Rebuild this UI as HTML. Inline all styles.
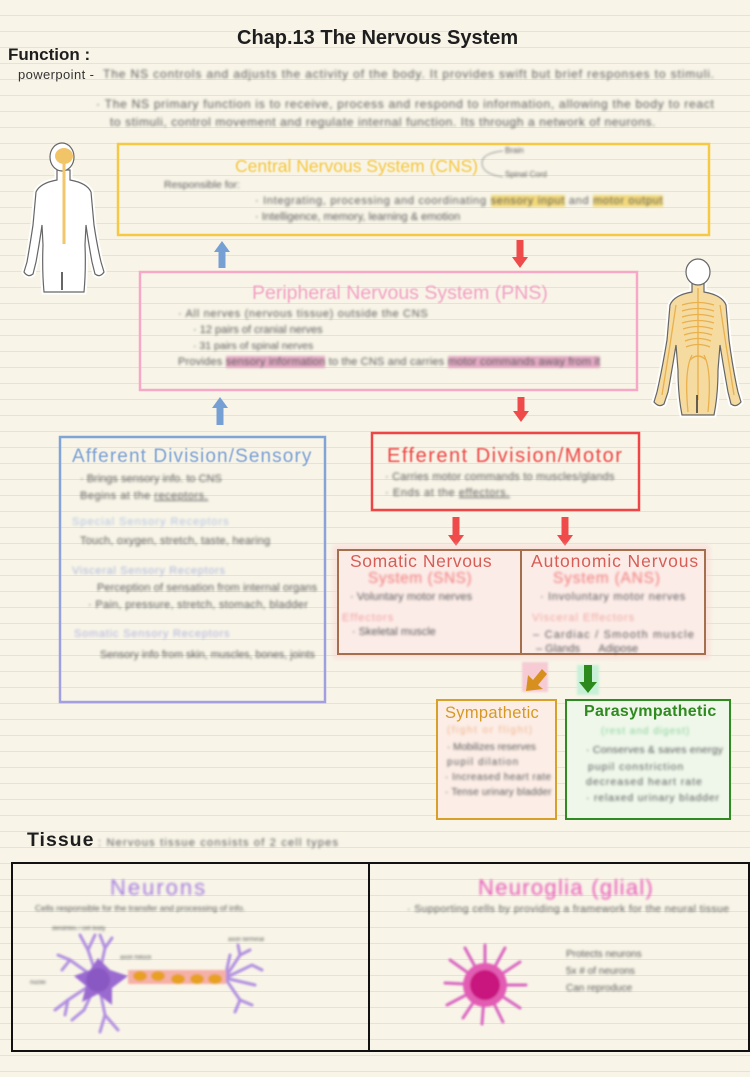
<!DOCTYPE html>
<html><head><meta charset="utf-8">
<style>
html,body{margin:0;padding:0;}
body{width:750px;height:1077px;overflow:hidden;background:#f8f5e8;position:relative;font-family:"Liberation Sans","DejaVu Sans",sans-serif;}
.bg{position:absolute;left:0;top:0;width:750px;height:1077px;background:repeating-linear-gradient(to bottom,transparent 0,transparent 15px,#e6e3d4 15px,#e6e3d4 16px);}
.a{position:absolute;white-space:nowrap;line-height:1;}
.bl{filter:blur(1.4px);color:#5c5c5c;font-size:11px;}
.hl{background:#f3d97a;}
.hp{background:#e4a9c4;}
svg{position:absolute;left:0;top:0;}
</style></head>
<body>
<div class="bg"></div>

<svg width="750" height="1077" viewBox="0 0 750 1077">
<defs>
<filter id="b1"><feGaussianBlur stdDeviation="1.1"/></filter>
<filter id="b2"><feGaussianBlur stdDeviation="2.5"/></filter>
<linearGradient id="afg" x1="0" y1="0" x2="0" y2="1">
<stop offset="0" stop-color="#7fa4d6"/><stop offset="1" stop-color="#a39fe0"/>
</linearGradient>
</defs>

<!-- left figure -->
<g>
<path d="M57,170 L57,180 Q40,183 36,192 L33,225 Q30,245 27,262 L24,272 Q28,278 33,274 L36,262 Q40,240 42,225 L43,245 Q42,270 44,292 L84,292 Q86,270 85,245 L86,225 Q88,240 92,262 L95,274 Q100,278 104,272 L101,262 Q97,245 94,225 L91,192 Q87,183 70,180 L70,170 Z" fill="#fff" stroke="#fff" stroke-width="5"/>
<path d="M57,170 L57,180 Q40,183 36,192 L33,225 Q30,245 27,262 L24,272 Q28,278 33,274 L36,262 Q40,240 42,225 L43,245 Q42,270 44,292 L84,292 Q86,270 85,245 L86,225 Q88,240 92,262 L95,274 Q100,278 104,272 L101,262 Q97,245 94,225 L91,192 Q87,183 70,180 L70,170 Z" fill="#fff" stroke="#666" stroke-width="1.2"/>
<ellipse cx="62" cy="157" rx="12" ry="14" fill="#fff" stroke="#666" stroke-width="1.2"/>
<ellipse cx="64" cy="156" rx="9" ry="8" fill="#f1c468"/>
<line x1="64" y1="162" x2="64" y2="244" stroke="#f2c66a" stroke-width="3"/>
<line x1="62" y1="272" x2="62" y2="290" stroke="#333" stroke-width="1.5"/>
</g>

<!-- right figure -->
<g>
<path d="M692,283 L692,292 Q674,295 670,305 L667,340 Q662,370 657,392 L654,402 Q659,408 664,404 L668,392 Q672,370 676,345 L678,370 Q678,395 682,415 L714,415 Q718,395 718,370 L720,345 Q724,370 728,392 L731,404 Q736,408 741,402 L738,392 Q733,370 729,340 L726,305 Q722,295 704,292 L704,283 Z" fill="#f6dba0" stroke="#fff" stroke-width="5"/>
<path d="M692,283 L692,292 Q674,295 670,305 L667,340 Q662,370 657,392 L654,402 Q659,408 664,404 L668,392 Q672,370 676,345 L678,370 Q678,395 682,415 L714,415 Q718,395 718,370 L720,345 Q724,370 728,392 L731,404 Q736,408 741,402 L738,392 Q733,370 729,340 L726,305 Q722,295 704,292 L704,283 Z" fill="#f6dba0" stroke="#666" stroke-width="1.2"/>
<ellipse cx="698" cy="272" rx="12" ry="13" fill="#fff" stroke="#666" stroke-width="1.2"/>
<g stroke="#e9b04c" stroke-width="1.3" fill="none">
<line x1="698" y1="288" x2="698" y2="400"/>
<path d="M682,305 Q698,300 714,305"/><path d="M682,311 Q698,306 714,311"/><path d="M682,317 Q698,312 714,317"/><path d="M682,323 Q698,318 714,323"/><path d="M683,329 Q698,324 713,329"/><path d="M684,335 Q698,330 712,335"/><path d="M685,341 Q698,336 711,341"/><path d="M686,347 Q698,342 710,347"/>
<path d="M676,305 L670,345 L662,395"/><path d="M720,305 L726,345 L734,395"/>
<path d="M692,355 Q684,370 688,412"/><path d="M704,355 Q712,370 708,412"/>
<path d="M690,360 Q698,352 706,360"/>
</g>
<line x1="697" y1="395" x2="697" y2="413" stroke="#333" stroke-width="1.5"/>
</g>

<!-- CNS box -->
<rect x="118" y="144" width="591" height="91" fill="none" stroke="#f6c944" stroke-width="2.5"/>
<path d="M503,151 Q482,153 482,163 Q482,174 503,177" fill="none" stroke="#9a9a9a" stroke-width="1" filter="url(#b1)"/>

<!-- arrows CNS<->PNS -->
<polygon points="222,241 214,252 218.5,252 218.5,268 225.5,268 225.5,252 230,252" fill="#76a0d4"/>
<polygon points="520,268 512,257 516.5,257 516.5,240 523.5,240 523.5,257 528,257" fill="#ef4b4b"/>

<!-- PNS box -->
<rect x="140" y="272" width="497" height="118" fill="none" stroke="#f5a8c8" stroke-width="2.5"/>

<!-- arrows PNS<->divisions -->
<polygon points="220,397 212,408 216.5,408 216.5,425 223.5,425 223.5,408 228,408" fill="#76a0d4"/>
<polygon points="521,422 513,411 517.5,411 517.5,397 524.5,397 524.5,411 529,411" fill="#ef4b4b"/>

<!-- Afferent box -->
<rect x="60" y="437" width="265" height="265" fill="none" stroke="url(#afg)" stroke-width="2.5"/>

<!-- Efferent box -->
<rect x="372" y="433" width="267" height="77" fill="none" stroke="#ee4646" stroke-width="2.5"/>

<!-- arrows to SNS / ANS -->
<polygon points="456,546 448,535 452.5,535 452.5,517 459.5,517 459.5,535 464,535" fill="#ef4b4b"/>
<polygon points="565,546 557,535 561.5,535 561.5,517 568.5,517 568.5,535 573,535" fill="#ef4b4b"/>

<!-- SNS/ANS box -->
<rect x="333" y="545" width="377" height="114" fill="#fbd6d4" filter="url(#b2)" opacity="0.6"/>
<rect x="338" y="550" width="367" height="104" fill="#fcece8" stroke="#a36f4d" stroke-width="2"/>
<line x1="521" y1="550" x2="521" y2="654" stroke="#a36f4d" stroke-width="2"/>

<!-- small arrows -->
<rect x="522" y="662" width="26" height="30" fill="#f6cbd4" filter="url(#b1)"/>
<polygon points="526,691 528,675 533,680 542,669 547,674 538,685 543,689" fill="#d7901e"/>
<rect x="577" y="665" width="22" height="30" fill="#c8f0d8" filter="url(#b1)"/>
<polygon points="588,693 579,682 584,682 584,665 592,665 592,682 597,682" fill="#2c8a1c"/>

<!-- Sympathetic / Parasympathetic -->
<rect x="437" y="700" width="119" height="119" fill="#fcede6" stroke="#d6a02a" stroke-width="2"/>
<rect x="566" y="700" width="164" height="119" fill="#eef7ea" stroke="#2f8a22" stroke-width="2"/>

<!-- Tissue underline shadows -->
<line x1="95" y1="862" x2="340" y2="862" stroke="#888" stroke-width="2" filter="url(#b2)"/>
<line x1="95" y1="1050" x2="245" y2="1050" stroke="#888" stroke-width="2" filter="url(#b2)"/>

<!-- Tissue box -->
<rect x="12" y="863" width="737" height="188" fill="none" stroke="#111" stroke-width="2"/>
<line x1="369" y1="863" x2="369" y2="1051" stroke="#111" stroke-width="2"/>

<!-- neuron -->
<g filter="url(#b1)">
<g stroke="#b08ee0" stroke-width="3" fill="none" stroke-linecap="round">
<path d="M98,980 L88,950 L80,935"/><path d="M88,950 L95,935"/>
<path d="M98,980 L105,948 L100,935"/><path d="M105,948 L112,938"/>
<path d="M98,980 L70,960 L58,955"/><path d="M70,960 L62,970"/>
<path d="M98,980 L68,1000 L55,1010"/><path d="M68,1000 L65,1015"/>
<path d="M98,980 L105,1015 L100,1032"/><path d="M105,1015 L118,1030"/>
<path d="M98,980 L84,1010 L72,1020"/>
<path d="M225,978 L240,955 L250,950"/><path d="M240,955 L238,945"/>
<path d="M225,978 L252,965 L262,970"/>
<path d="M225,978 L255,985"/>
<path d="M225,978 L240,1000 L235,1012"/><path d="M240,1000 L252,1005"/>
<path d="M225,978 L230,955"/>
</g>
<polygon points="98,958 110,970 128,976 112,988 112,1005 98,994 82,1002 86,986 74,976 90,970" fill="#9a6ad0"/>
<circle cx="98" cy="980" r="12" fill="#8a58c2"/>
<rect x="128" y="970" width="98" height="14" fill="#f5b0a8"/>
<ellipse cx="140" cy="976" rx="7" ry="5" fill="#e8a024"/>
<ellipse cx="158" cy="976" rx="7" ry="5" fill="#e8a024"/>
<ellipse cx="178" cy="979" rx="7" ry="5" fill="#e8a024"/>
<ellipse cx="197" cy="979" rx="7" ry="5" fill="#e8a024"/>
<ellipse cx="215" cy="979" rx="7" ry="5" fill="#e8a024"/>
</g>

<!-- glial -->
<g filter="url(#b1)">
<g stroke="#d864c0" stroke-width="3" stroke-linecap="round">
<line x1="485" y1="985" x2="485" y2="945"/><line x1="485" y1="985" x2="505" y2="948"/><line x1="485" y1="985" x2="520" y2="962"/>
<line x1="485" y1="985" x2="526" y2="985"/><line x1="485" y1="985" x2="520" y2="1008"/><line x1="485" y1="985" x2="503" y2="1022"/>
<line x1="485" y1="985" x2="482" y2="1024"/><line x1="485" y1="985" x2="463" y2="1018"/><line x1="485" y1="985" x2="447" y2="1005"/>
<line x1="485" y1="985" x2="445" y2="983"/><line x1="485" y1="985" x2="450" y2="960"/><line x1="485" y1="985" x2="465" y2="948"/>
</g>
<circle cx="485" cy="985" r="22" fill="#e25cb4"/>
<circle cx="485" cy="985" r="15" fill="#c8147e"/>
</g>
</svg>

<!-- Header -->
<div class="a" style="left:237px;top:28px;font-size:20px;font-weight:bold;color:#1e1e1e;">Chap.13 The Nervous System</div>
<div class="a" style="left:8px;top:46px;font-size:17px;font-weight:bold;color:#1e1e1e;">Function :</div>
<div class="a" style="left:18px;top:68px;font-size:13px;letter-spacing:0.4px;color:#333;">powerpoint -</div>
<div class="a bl" style="left:103px;top:68px;font-size:12px;letter-spacing:0.88px;">The NS controls and adjusts the activity of the body. It provides swift but brief responses to stimuli.</div>
<div class="a bl" style="left:96px;top:98px;font-size:12px;letter-spacing:0.75px;">· The NS primary function is to receive, process and respond to information, allowing the body to react</div>
<div class="a bl" style="left:110px;top:116px;font-size:12px;letter-spacing:0.6px;">to stimuli, control movement and regulate internal function. Its through a network of neurons.</div>

<!-- CNS -->
<div class="a" style="left:235px;top:158px;font-size:17.5px;color:#f5c63e;filter:blur(0.9px);">Central Nervous System (CNS)</div>
<div class="a bl" style="left:505px;top:147px;font-size:8px;">Brain</div>
<div class="a bl" style="left:505px;top:171px;font-size:8px;">Spinal Cord</div>
<div class="a bl" style="left:164px;top:180px;font-size:10.5px;">Responsible for:</div>
<div class="a bl" style="left:255px;top:196px;letter-spacing:0.7px;">· Integrating, processing and coordinating <span class="hl">sensory input</span> and <span class="hl">motor output</span></div>
<div class="a bl" style="left:255px;top:212px;">· Intelligence, memory, learning &amp; emotion</div>

<!-- PNS -->
<div class="a" style="left:252px;top:284px;font-size:19.5px;color:#f2a0c4;filter:blur(0.9px);">Peripheral Nervous System (PNS)</div>
<div class="a bl" style="left:178px;top:309px;letter-spacing:0.7px;">· All nerves (nervous tissue) outside the CNS</div>
<div class="a bl" style="left:193px;top:325px;">· 12 pairs of cranial nerves</div>
<div class="a bl" style="left:193px;top:341px;font-size:10.5px;">· 31 pairs of spinal nerves</div>
<div class="a bl" style="left:178px;top:357px;letter-spacing:0.2px;">Provides <span class="hp">sensory information</span> to the CNS and carries <span class="hp">motor commands away from it</span></div>

<!-- Afferent -->
<div class="a" style="left:72px;top:447px;font-size:19px;letter-spacing:1.1px;color:#7a9fd4;filter:blur(0.6px);">Afferent Division/Sensory</div>
<div class="a bl" style="left:80px;top:474px;">· Brings sensory info. to CNS</div>
<div class="a bl" style="left:80px;top:491px;letter-spacing:0.5px;">Begins at the <u>receptors.</u></div>
<div class="a bl" style="left:72px;top:517px;letter-spacing:1px;color:#b3c4e4;">Special Sensory Receptors</div>
<div class="a bl" style="left:80px;top:536px;letter-spacing:0.2px;">Touch, oxygen, stretch, taste, hearing</div>
<div class="a bl" style="left:72px;top:566px;letter-spacing:0.7px;color:#adb6dc;">Visceral Sensory Receptors</div>
<div class="a bl" style="left:97px;top:583px;letter-spacing:0.1px;">Perception of sensation from internal organs</div>
<div class="a bl" style="left:88px;top:600px;letter-spacing:0.3px;">· Pain, pressure, stretch, stomach, bladder</div>
<div class="a bl" style="left:74px;top:629px;letter-spacing:0.8px;color:#b2b2e0;">Somatic Sensory Receptors</div>
<div class="a bl" style="left:100px;top:650px;font-size:10.6px;">Sensory info from skin, muscles, bones, joints</div>

<!-- Efferent -->
<div class="a" style="left:387px;top:446px;font-size:20px;letter-spacing:1.5px;color:#ee4545;filter:blur(0.8px);">Efferent Division/Motor</div>
<div class="a bl" style="left:385px;top:472px;letter-spacing:0.2px;">· Carries motor commands to muscles/glands</div>
<div class="a bl" style="left:385px;top:488px;letter-spacing:0.6px;">· Ends at the <u>effectors.</u></div>

<!-- Somatic -->
<div class="a" style="left:350px;top:553px;font-size:17.5px;letter-spacing:0.6px;color:#d65e56;">Somatic Nervous</div>
<div class="a" style="left:368px;top:571px;font-size:15.5px;letter-spacing:0.5px;color:#f07c7c;filter:blur(1.2px);">System (SNS)</div>
<div class="a bl" style="left:350px;top:592px;letter-spacing:0.1px;">· Voluntary motor nerves</div>
<div class="a bl" style="left:342px;top:613px;letter-spacing:1px;color:#f0a0a0;">Effectors</div>
<div class="a bl" style="left:352px;top:627px;">· Skeletal muscle</div>

<!-- Autonomic -->
<div class="a" style="left:531px;top:553px;font-size:17.5px;letter-spacing:0.9px;color:#d65e56;">Autonomic Nervous</div>
<div class="a" style="left:553px;top:571px;font-size:15.5px;letter-spacing:0.8px;color:#f07c7c;filter:blur(1.2px);">System (ANS)</div>
<div class="a bl" style="left:540px;top:592px;letter-spacing:0.7px;">· Involuntary motor nerves</div>
<div class="a bl" style="left:532px;top:613px;letter-spacing:1px;color:#f0a8a0;">Visceral Effectors</div>
<div class="a bl" style="left:533px;top:630px;letter-spacing:1.2px;">– Cardiac / Smooth muscle</div>
<div class="a bl" style="left:536px;top:644px;">– Glands &nbsp;&nbsp;&nbsp;&nbsp;&nbsp;Adipose</div>

<!-- Sympathetic -->
<div class="a" style="left:445px;top:705px;font-size:16.5px;letter-spacing:0.3px;color:#d69a24;">Sympathetic</div>
<div class="a bl" style="left:447px;top:726px;font-size:10px;letter-spacing:1.5px;color:#f0b890;">(fight or flight)</div>
<div class="a bl" style="left:447px;top:743px;font-size:10px;">· Mobilizes reserves</div>
<div class="a bl" style="left:447px;top:758px;font-size:10px;letter-spacing:1.2px;">pupil dilation</div>
<div class="a bl" style="left:445px;top:773px;font-size:10px;letter-spacing:0.5px;">· Increased heart rate</div>
<div class="a bl" style="left:445px;top:788px;font-size:10px;letter-spacing:0.2px;">· Tense urinary bladder</div>

<!-- Parasympathetic -->
<div class="a" style="left:584px;top:704px;font-size:16px;letter-spacing:0.3px;font-weight:bold;color:#2f8a1f;">Parasympathetic</div>
<div class="a bl" style="left:601px;top:727px;font-size:10px;letter-spacing:1px;color:#8cd49c;">(rest and digest)</div>
<div class="a bl" style="left:586px;top:745px;font-size:10.5px;letter-spacing:0.2px;">· Conserves &amp; saves energy</div>
<div class="a bl" style="left:588px;top:762px;font-size:10.5px;letter-spacing:1px;">pupil constriction</div>
<div class="a bl" style="left:586px;top:777px;font-size:10.5px;letter-spacing:1px;">decreased heart rate</div>
<div class="a bl" style="left:586px;top:793px;font-size:10.5px;letter-spacing:0.8px;">· relaxed urinary bladder</div>

<!-- Tissue -->
<div class="a" style="left:27px;top:831px;font-size:19.5px;letter-spacing:1px;font-weight:bold;color:#1e1e1e;">Tissue</div>
<div class="a bl" style="left:98px;top:838px;letter-spacing:1.2px;">: Nervous tissue consists of 2 cell types</div>

<div class="a" style="left:110px;top:877px;font-size:22px;letter-spacing:2px;color:#a67de0;filter:blur(1.3px);">Neurons</div>
<div class="a bl" style="left:35px;top:904px;font-size:8.5px;">Cells responsible for the transfer and processing of info.</div>
<div class="a bl" style="left:52px;top:926px;font-size:6px;">dendrites / cell body</div>
<div class="a bl" style="left:120px;top:955px;font-size:6px;">axon hillock</div>
<div class="a bl" style="left:30px;top:980px;font-size:6px;">nuclei</div>
<div class="a bl" style="left:228px;top:937px;font-size:6px;">axon terminal</div>

<div class="a" style="left:478px;top:877px;font-size:22px;letter-spacing:1.3px;color:#e85ab8;filter:blur(1.3px);">Neuroglia (glial)</div>
<div class="a bl" style="left:407px;top:904px;font-size:10.5px;letter-spacing:0.4px;">· Supporting cells by providing a framework for the neural tissue</div>
<div class="a bl" style="left:566px;top:946px;font-size:10px;line-height:17px;">Protects neurons<br>5x # of neurons<br>Can reproduce</div>
</body></html>
